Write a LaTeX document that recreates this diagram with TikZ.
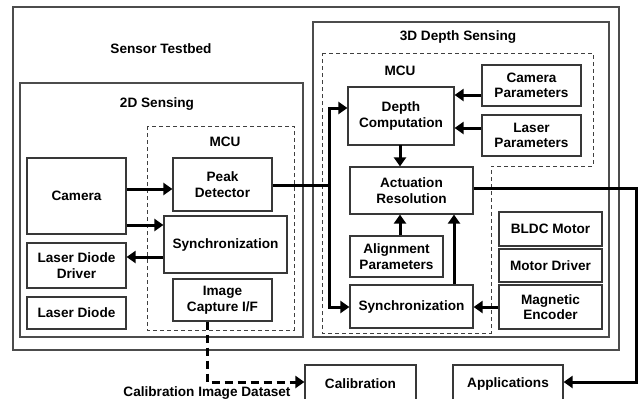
\documentclass[tikz,border=0pt]{standalone}
\usepackage{fontspec}
\setmainfont{Liberation Sans}
\usetikzlibrary{arrows.meta}
\tikzset{
  box/.style={draw=black!78, line width=1.2pt, fill=white, align=center, inner sep=0pt,
    font=\fontsize{13.6}{15.5}\selectfont\bfseries},
  frame/.style={draw=black!70, line width=1.2pt},
  dframe/.style={draw=black!75, line width=1pt, dash pattern=on 4pt off 3pt},
  lbl/.style={font=\fontsize{13.6}{15.5}\selectfont\bfseries, inner sep=0pt},
  conn/.style={line width=3pt, -{Triangle[length=9pt,width=12pt]}},
  dconn/.style={line width=3pt, dash pattern=on 8pt off 5pt, -{Triangle[length=9pt,width=12pt]}},
}
\newcommand\mybox[6]{\node[box, minimum width={(#4-#2)*1pt}, minimum height={(#5-#3)*1pt}] (#1) at ({(#2+#4)/2},{(#3+#5)/2}) {#6};}
\begin{document}
\begin{tikzpicture}[x=1pt,y=-1pt]
\clip (0,0) rectangle (643,399);
\fill[white] (0,0) rectangle (643,399);
% frames
\draw[frame] (13,7) rectangle (619,350);
\draw[frame] (20,83) rectangle (303,337);
\draw[frame] (313,22) rectangle (609,337);
\draw[dframe] (147,126) rectangle (294,330);
\draw[dframe] (322,53) -- (593,53) -- (593,166) -- (491,166) -- (491,333) -- (322,333) -- cycle;
\node[lbl] (tst) at (161,49) {Sensor Testbed};
\node[lbl] (s2d) at (157,104) {2D Sensing};
\node[lbl] (mcu2) at (225,142) {MCU};
\node[lbl] (s3d) at (458,37) {3D Depth Sensing};
\node[lbl] (mcu3) at (400,71) {MCU};
% 2D boxes
\mybox{cam}{27}{158}{126}{234}{Camera}
\mybox{peak}{173}{158}{272}{211}{Peak\\Detector}
\mybox{synctwo}{164}{216}{287}{273}{Synchronization}
\mybox{ldd}{27}{243}{126}{288}{Laser Diode\\Driver}
\mybox{ld}{27}{297}{126}{329}{Laser Diode}
\mybox{icap}{173}{279}{272}{321}{Image\\Capture I/F}
% 3D boxes
\mybox{depth}{348}{87}{454}{145}{Depth\\Computation}
\mybox{campar}{482}{65}{581}{106}{Camera\\Parameters}
\mybox{laspar}{482}{115}{581}{156}{Laser\\Parameters}
\mybox{act}{350}{167}{473}{214}{Actuation\\Resolution}
\mybox{align}{350}{236}{443}{277}{Alignment\\Parameters}
\mybox{syncthree}{350}{285}{473}{328}{Synchronization}
\mybox{bldc}{499}{212}{602}{246}{BLDC Motor}
\mybox{mdrv}{499}{249}{602}{282}{Motor Driver}
\mybox{enc}{499}{285}{602}{329}{Magnetic\\Encoder}
% bottom boxes (cut off at the lower edge)
\mybox{calib}{305}{365}{416}{402}{Calibration}
\mybox{app}{453}{365}{563}{402}{Applications}
\node[lbl] (cid) at (207,393) {Calibration Image Dataset};
% connectors
\coordinate (j) at (329,185);
\draw[conn] (cam.east |- 0,189) -- (peak.west |- 0,189);
\draw[conn] (cam.east |- 0,225) -- (synctwo.west |- 0,225);
\draw[conn] (synctwo.west |- 0,257) -- (ldd.east |- 0,257);
\draw[line width=3pt] (peak.east |- j) -- (j);
\draw[conn] (j) |- (depth.west |- 0,108);
\draw[conn] (j) |- (syncthree.west |- 0,307);
\draw[conn] (campar.west |- 0,95) -- (depth.east |- 0,95);
\draw[conn] (laspar.west |- 0,128) -- (depth.east |- 0,128);
\draw[conn] (400,145) -- (act.north -| 400,0);
\draw[conn] (align.north -| 400,0) -- (act.south -| 400,0);
\draw[conn] (syncthree.north -| 454,0) -- (act.south -| 454,0);
\draw[conn] (enc.west |- 0,307) -- (syncthree.east |- 0,307);
\draw[conn] (act.east |- 0,188) -- (636,188) -- (636,382) -- (app.east |- 0,382);
\draw[dconn] (icap.south -| 207,0) |- (calib.west |- 0,382);
\end{tikzpicture}
\end{document}
